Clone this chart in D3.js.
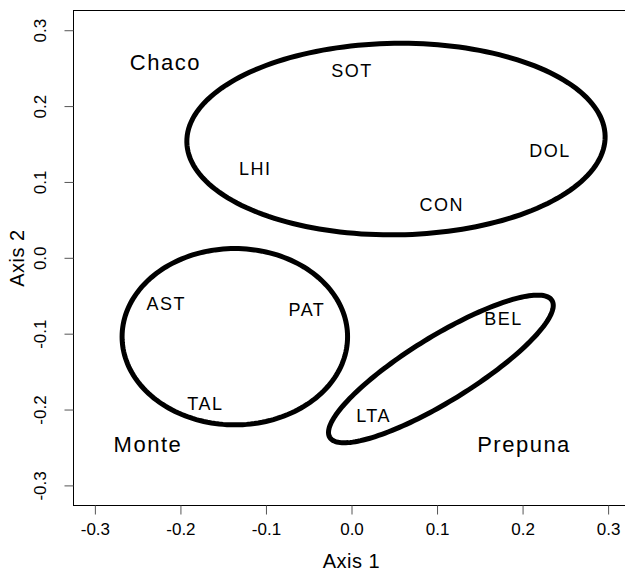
<!DOCTYPE html>
<html>
<head>
    <meta charset="utf-8">
    <title>Ordination - Chaco, Monte, Prepuna</title>
    <script type="text/javascript" src="https://cdn.jsdelivr.net/npm/d3@7"></script>
    <style>
        body { margin: 0; background: white; }
        text { font-family: Arial, "Liberation Sans", Helvetica, sans-serif; fill: black; }
    </style>
</head>
<body>
<script type="text/javascript">
    //Width and height
    var w = 625;
    var h = 573;

    // site labels (axis 1, axis 2 scores)
    var sites = ["SOT", "LHI", "DOL", "CON", "AST", "PAT", "TAL", "LTA", "BEL"];
    var axis1 = [0.0005, -0.1125, 0.232, 0.1056, -0.2165, -0.0521, -0.1709, 0.0258, 0.1776];
    var axis2 = [0.2472, 0.1177, 0.1418, 0.0706, -0.0604, -0.0683, -0.1924, -0.2078, -0.0802];

    // group names and where they are written
    var groups = ["Chaco", "Monte", "Prepuna"];
    var groupX = [-0.2176, -0.238, 0.2017];
    var groupY = [0.2583, -0.246, -0.246];

    // ellipses: centre, first and second semi-axis vectors (data units)
    var ellCx = [0.052, -0.1364, 0.1045];
    var ellCy = [0.1565, -0.1040, -0.1465];
    var ellU = [[0.2445, 0.004], [0.1318, 0.0], [0.130, 0.090]];
    var ellV = [[-0.002, 0.1262], [0.0, 0.1162], [-0.019, 0.037]];

    var ticks = [-0.3, -0.2, -0.1, 0.0, 0.1, 0.2, 0.3];

    // plot region
    var pLeft = 73.5, pRight = 629.5, pTop = 10.5, pBottom = 505.5;

    var x = d3.scaleLinear().domain([-0.325, 0.325]).range([pLeft, pRight]);
    var y = d3.scaleLinear().domain([-0.3265, 0.326]).range([pBottom, pTop]);

    // R style labels with a plain hyphen
    var fmt = function(d) { return d3.format(".1f")(d).replace("\u2212", "-"); };

    var svg = d3.select("body")
        .append("svg")
        .attr("width", w)
        .attr("height", h);

    // ellipses
    var line = d3.line()
        .x(function(d) { return x(d[0]); })
        .y(function(d) { return y(d[1]); })
        .curve(d3.curveLinearClosed);

    for (var e = 0; e < ellCx.length; e++) {
        var pts = d3.range(0, 360, 2).map(function(a) {
            var t = a * Math.PI / 180;
            return [ellCx[e] + ellU[e][0] * Math.cos(t) + ellV[e][0] * Math.sin(t),
                    ellCy[e] + ellU[e][1] * Math.cos(t) + ellV[e][1] * Math.sin(t)];
        });
        svg.append("path")
            .attr("d", line(pts))
            .attr("fill", "none")
            .attr("stroke", "black")
            .attr("stroke-width", 5);
    }

    // site labels
    svg.selectAll("text.site")
        .data(sites)
        .enter()
        .append("text")
        .attr("class", "site")
        .attr("x", function(d, i) { return x(axis1[i]); })
        .attr("y", function(d, i) { return y(axis2[i]); })
        .attr("dy", "0.36em")
        .attr("text-anchor", "middle")
        .attr("font-size", "18px")
        .attr("letter-spacing", "1.5px")
        .text(function(d) { return d; });

    // group labels
    svg.selectAll("text.group")
        .data(groups)
        .enter()
        .append("text")
        .attr("class", "group")
        .attr("x", function(d, i) { return x(groupX[i]); })
        .attr("y", function(d, i) { return y(groupY[i]); })
        .attr("dy", "0.36em")
        .attr("text-anchor", "middle")
        .attr("font-size", "22px")
        .attr("letter-spacing", "1.5px")
        .text(function(d) { return d; });

    // box
    svg.append("rect")
        .attr("x", pLeft)
        .attr("y", pTop)
        .attr("width", pRight - pLeft)
        .attr("height", pBottom - pTop)
        .attr("fill", "none")
        .attr("stroke", "black")
        .attr("stroke-width", 1);

    // x axis
    var xAxis = svg.append("g")
        .attr("transform", "translate(0," + pBottom + ")")
        .call(d3.axisBottom(x).tickValues(ticks).tickSize(9).tickPadding(8).tickFormat(fmt));
    xAxis.select(".domain").remove();
    xAxis.selectAll("line").attr("stroke", "#555");
    xAxis.selectAll("text").attr("font-size", "17px").attr("font-family", "Arial, 'Liberation Sans', sans-serif");

    // y axis
    var yAxis = svg.append("g")
        .attr("transform", "translate(" + pLeft + ",0)")
        .call(d3.axisLeft(y).tickValues(ticks).tickSize(9).tickFormat(fmt));
    yAxis.select(".domain").remove();
    yAxis.selectAll("line").attr("stroke", "#555");
    yAxis.selectAll("text")
        .attr("font-size", "17px")
        .attr("font-family", "Arial, 'Liberation Sans', sans-serif")
        .attr("text-anchor", "middle")
        .attr("x", 0)
        .attr("dy", 0)
        .attr("transform", "translate(-33,0) rotate(-90)")
        .attr("dominant-baseline", "central");

    // axis titles
    svg.append("text")
        .attr("x", x(0))
        .attr("y", 568)
        .attr("text-anchor", "middle")
        .attr("font-size", "20px")
        .attr("letter-spacing", "0.5px")
        .text("Axis 1");

    svg.append("text")
        .attr("transform", "translate(17," + ((pTop + pBottom) / 2) + ") rotate(-90)")
        .attr("text-anchor", "middle")
        .attr("dominant-baseline", "central")
        .attr("font-size", "20px")
        .attr("letter-spacing", "0.5px")
        .text("Axis 2");
</script>
</body>
</html>
